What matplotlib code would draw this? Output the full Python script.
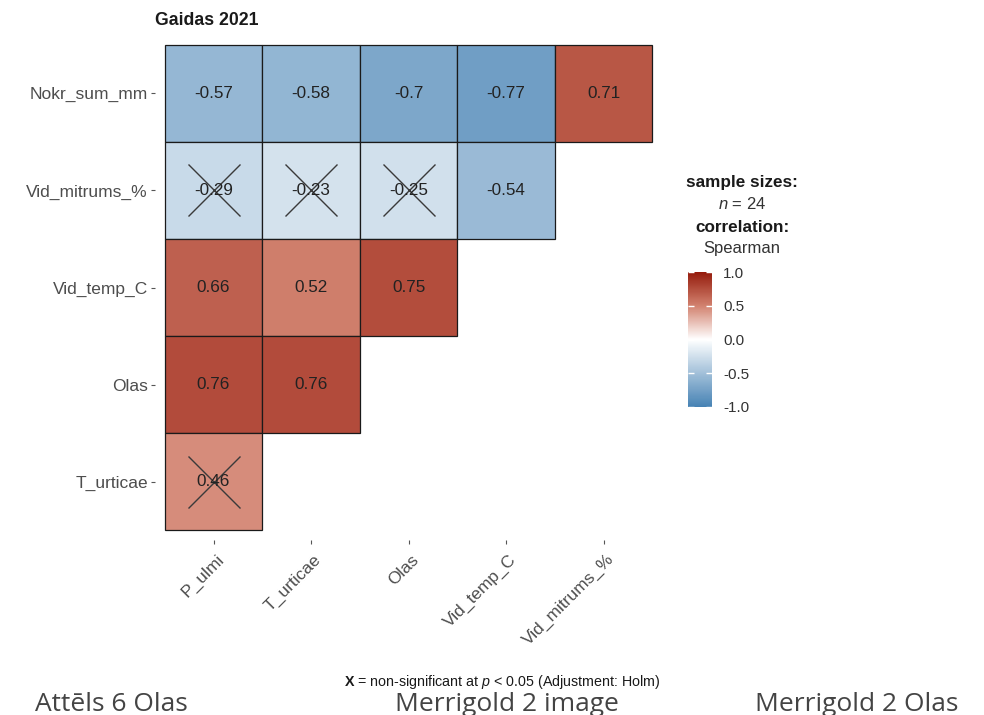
import numpy as np
import matplotlib
matplotlib.use('Agg')
import matplotlib.pyplot as plt
import matplotlib.transforms as mtransforms
from matplotlib.colors import LinearSegmentedColormap, Normalize
from matplotlib.cm import ScalarMappable
from matplotlib.patches import Rectangle

plt.rcParams['font.family'] = ['Liberation Sans', 'DejaVu Sans']
plt.rcParams['mathtext.fontset'] = 'custom'
plt.rcParams['mathtext.it'] = 'Liberation Sans:italic'
plt.rcParams['mathtext.bf'] = 'Liberation Sans:bold'
plt.rcParams['mathtext.rm'] = 'Liberation Sans'

# rows top -> bottom, columns left -> right
row_names = ['Nokr_sum_mm', 'Vid_mitrums_%', 'Vid_temp_C', 'Olas', 'T_urticae']
col_names = ['P_ulmi', 'T_urticae', 'Olas', 'Vid_temp_C', 'Vid_mitrums_%']

# spearman r for each row (lower triangle only)
r_nokr = [-0.57, -0.58, -0.70, -0.77, 0.71]
r_mitr = [-0.29, -0.23, -0.25, -0.54]
r_temp = [0.66, 0.52, 0.75]
r_olas = [0.76, 0.76]
r_turt = [0.46]

# 1 = non-significant (crossed out)
ns_nokr = [0, 0, 0, 0, 0]
ns_mitr = [1, 1, 1, 0]
ns_temp = [0, 0, 0]
ns_olas = [0, 0]
ns_turt = [1]

rows_r = [r_nokr, r_mitr, r_temp, r_olas, r_turt]
rows_ns = [ns_nokr, ns_mitr, ns_temp, ns_olas, ns_turt]

cbar_ticks = [-1.0, -0.5, 0.0, 0.5, 1.0]
cbar_labels = ['-1.0', '-0.5', '0.0', '0.5', '1.0']

# steelblue - white - darkred, with mid stops to mimic the Lab blend
cmap = LinearSegmentedColormap.from_list(
    'corr', [(0.0, '#4682B4'), (0.25, '#A2C0D9'), (0.5, '#FFFFFF'),
             (0.75, '#D2826F'), (1.0, '#951B0C')])
norm = Normalize(-1, 1)

W, H = 984, 715
fig = plt.figure(figsize=(W / 100, H / 100), dpi=100)
fig.patch.set_facecolor('white')

ax = fig.add_axes([155 / W, 1 - 540 / H, 507 / W, 505 / H])
ax.set_xlim(-0.6, 4.6)
ax.set_ylim(4.6, -0.6)
for s in ax.spines.values():
    s.set_visible(False)

for i, (vals, flags) in enumerate(zip(rows_r, rows_ns)):
    for j, (v, f) in enumerate(zip(vals, flags)):
        ax.add_patch(Rectangle((j - 0.5, i - 0.5), 1, 1, facecolor=cmap(norm(v)),
                               edgecolor='#1a1a1a', linewidth=0.9))
        lab = f'{v:.2f}'.rstrip('0')
        ax.text(j, i, lab, ha='center', va='center', fontsize=12.3, color='#222222')
        if f:
            ax.plot(j, i, marker='x', markersize=37, markeredgewidth=1.0,
                    color='#3a3a3a')

ax.set_yticks(range(len(row_names)))
ax.set_yticklabels(row_names)
ax.set_xticks(range(len(col_names)))
ax.set_xticklabels([])
ax.tick_params(axis='both', length=3, width=0.8, color='#555555',
               labelsize=12.5, labelcolor='#4d4d4d')
ax.tick_params(axis='y', pad=2.2)

# rotated x labels
off = mtransforms.ScaledTranslation(0.08, -0.17, fig.dpi_scale_trans)
for j, name in enumerate(col_names):
    ax.text(j, 0, name, transform=ax.get_xaxis_transform() + off,
            rotation=45, rotation_mode='anchor', ha='right', va='center',
            fontsize=12.5, color='#4d4d4d')

# colour bar
cax = fig.add_axes([688 / W, 1 - 407 / H, 24 / W, 135 / H])
sm = ScalarMappable(norm=norm, cmap=cmap)
cb = fig.colorbar(sm, cax=cax, ticks=cbar_ticks)
cb.outline.set_visible(False)
cb.set_ticklabels(cbar_labels)
cax.tick_params(left=True, right=True, direction='in', length=4, width=1,
                color='white', labelsize=11, labelcolor='#333333', pad=8)

# legend texts
lx = 742 / W
fig.text(lx, 1 - 182 / H, 'sample sizes:', ha='center', va='center',
         fontsize=12.3, fontweight='bold', color='#1a1a1a')
fig.text(lx, 1 - 204 / H, r'$\it{n}$ = 24', ha='center', va='center',
         fontsize=12, color='#333333')
fig.text(lx, 1 - 227 / H, 'correlation:', ha='center', va='center',
         fontsize=12.3, fontweight='bold', color='#1a1a1a')
fig.text(lx, 1 - 249 / H, 'Spearman', ha='center', va='center',
         fontsize=12, color='#333333')

# title and caption
fig.text(155 / W, 1 - 25 / H, 'Gaidas 2021', ha='left', va='baseline',
         fontsize=12.7, fontweight='bold', color='#1a1a1a')
fig.text(502 / W, 1 - 682 / H,
         r'$\bf{X}$ = non-significant at $\it{p}$ < 0.05 (Adjustment: Holm)',
         ha='center', va='center', fontsize=10.3, color='#1a1a1a')

# cropped captions of the surrounding document
for x, t in [(35, 'Attēls 6 Olas'), (395, 'Merrigold 2 image'), (755, 'Merrigold 2 Olas')]:
    fig.text(x / W, 1 - 692 / H, t, ha='left', va='top', fontsize=19,
             family='Open Sans', color='#444444')

fig.savefig('out.png', dpi=100, facecolor='white')
